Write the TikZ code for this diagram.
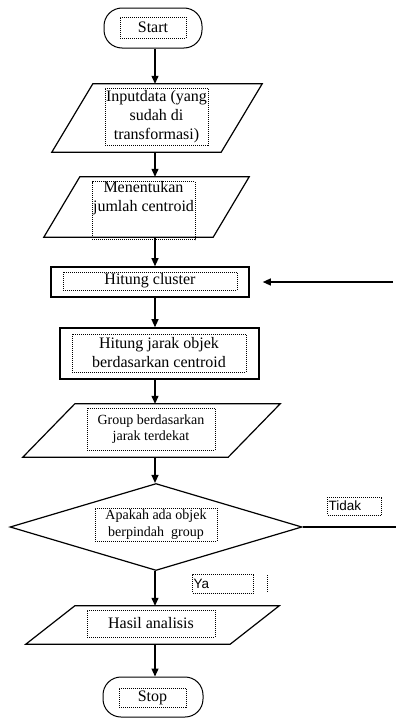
\documentclass[tikz,border=0pt]{standalone}
\usepackage{fontspec}
\setmainfont{Liberation Serif}
\setsansfont{Liberation Sans}
\usetikzlibrary{shapes.geometric,arrows.meta}

\begin{document}
\begin{tikzpicture}[x=1pt,y=-1pt,
        term/.style={draw,line width=1pt,rounded corners=18pt,minimum width=98pt,minimum height=40pt,inner sep=0pt},
        proc/.style={draw,line width=1.6pt,inner sep=0pt},
        iobox/.style={inner sep=0pt},
        ioline/.style={line width=1.2pt,line join=miter},
        txt/.style={draw,densely dotted,line width=1pt,inner sep=0pt,align=center,font=\fontsize{16}{19}\selectfont},
        small/.style={font=\fontsize{14}{16.5}\selectfont},
        lbl/.style={font=\sffamily\fontsize{13.5}{16}\selectfont,inner xsep=1pt,align=left,anchor=west},
        arr/.style={line width=1.2pt,-{Triangle[length=8pt,width=7pt]}}]
        \useasboundingbox (0,0) rectangle (396,720);
        \coordinate (axis) at (155,0);

        \node[term] (start) at (153,28) {};
        \node[txt,minimum width=66pt,minimum height=21pt] (tstart) at (153,27.5) {Start};

        \node[iobox,minimum width=210pt,minimum height=68pt] (in1) at (157,118) {};
        \draw[ioline] ([xshift=41pt]in1.north west) -- (in1.north east) -- ([xshift=-41pt]in1.south east) -- (in1.south west) -- cycle;
        \node[txt,minimum width=103pt,minimum height=57pt] (tin1) at (156.5,116.5) {Inputdata (yang\\sudah di\\transformasi)};

        \node[iobox,minimum width=205pt,minimum height=60pt] (in2) at (146.5,207) {};
        \draw[ioline] ([xshift=36pt]in2.north west) -- (in2.north east) -- ([xshift=-36pt]in2.south east) -- (in2.south west) -- cycle;
        \node[txt,minimum width=103pt,text depth=28pt,anchor=north] (tin2) at (143.5,181) {Menentukan\\jumlah centroid};

        \node[proc,minimum width=198pt,minimum height=30pt] (hc) at (150,282) {};
        \node[txt,minimum width=174pt,minimum height=18pt] (thc) at (150,281) {Hitung cluster};

        \node[proc,minimum width=199pt,minimum height=51pt] (jarak) at (159.5,353.5) {};
        \node[txt,minimum width=174pt,minimum height=38pt] (tjarak) at (159,353) {Hitung jarak objek\\berdasarkan centroid};

        \node[iobox,minimum width=257pt,minimum height=53pt] (grp) at (151.5,430.5) {};
        \draw[ioline] ([xshift=52pt]grp.north west) -- (grp.north east) -- ([xshift=-52pt]grp.south east) -- (grp.south west) -- cycle;
        \node[txt,small,minimum width=128pt,minimum height=42pt] (tgrp) at (151,429) {Group berdasarkan\\jarak terdekat};

        \node[diamond,draw,line width=1.2pt,minimum width=292pt,minimum height=87pt,inner sep=0pt] (dia) at (156,527) {};
        \node[txt,small,minimum width=122pt,minimum height=33pt] (tdia) at (156,524.5) {Apakah ada objek\\berpindah\ \ group};

        \node[txt,lbl,minimum height=18pt,text width=52pt] (tidak) at (327,506) {Tidak};
        \node[txt,lbl,minimum height=19pt,text width=59pt] (ya) at (192,583.5) {Ya};
        \draw[densely dotted,line width=1pt] (267,575) -- (267,592);

        \node[iobox,minimum width=253pt,minimum height=38pt] (hasil) at (152.5,625) {};
        \draw[ioline] ([xshift=49pt]hasil.north west) -- (hasil.north east) -- ([xshift=-49pt]hasil.south east) -- (hasil.south west) -- cycle;
        \node[txt,minimum width=128pt,minimum height=27pt] (thasil) at (151,623.5) {Hasil analisis};

        \node[term,minimum width=100pt] (stop) at (153,697) {};
        \node[txt,minimum width=67pt,minimum height=19pt] (tstop) at (152.5,697.5) {Stop};

        \draw[arr] (start.south -| axis) -- (in1.north -| axis);
        \draw[arr] (in1.south -| axis) -- (in2.north -| axis);
        \draw[arr] (in2.south -| axis) -- (hc.north -| axis);
        \draw[arr] (hc.south -| axis) -- (jarak.north -| axis);
        \draw[arr] (jarak.south -| axis) -- (grp.north -| axis);
        \draw[arr] (grp.south -| axis) -- (dia.north -| axis);
        \draw[arr] (dia.south -| axis) -- (hasil.north -| axis);
        \draw[arr] (hasil.south -| axis) -- (stop.north -| axis);

        \coordinate (loop) at (393,282);
        \draw[arr] (loop) -- ([xshift=13pt]hc.east);
        \coordinate (out) at (396,527);
        \draw[line width=1.2pt] (dia.east) -- (out);
\end{tikzpicture}
\end{document}
